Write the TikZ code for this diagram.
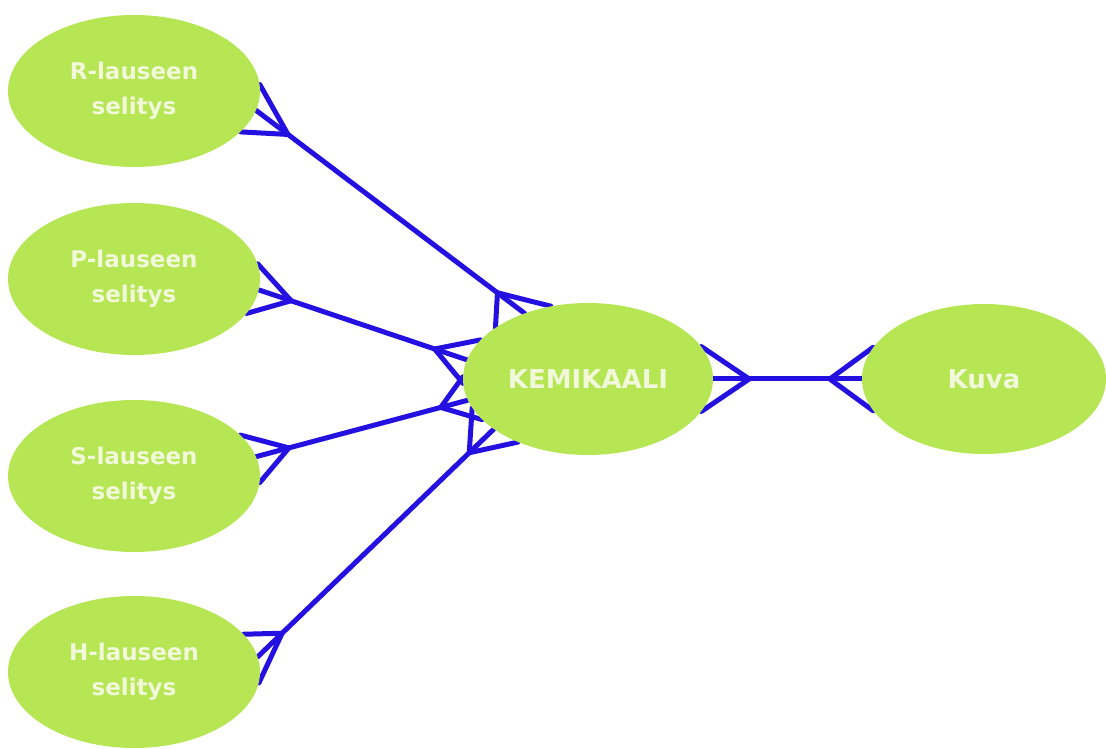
\documentclass[tikz,border=0pt]{standalone}
\usepackage{fontspec}
\setmainfont{DejaVu Sans}
\usetikzlibrary{shapes.geometric,calc,backgrounds}
\definecolor{ellgreen}{RGB}{182,230,84}
\definecolor{txtpale}{RGB}{242,248,218}
\definecolor{lnblue}{RGB}{36,16,224}
\tikzset{
  ell/.style={ellipse, fill=ellgreen, draw=none, inner sep=0pt,
    minimum width=252pt, minimum height=152pt, align=center, text=txtpale,
    font=\bfseries\fontsize{23}{35}\selectfont},
  bigtext/.style={font=\bfseries\fontsize{26}{35}\selectfont},
  link/.style={draw=lnblue, line width=5pt, line cap=round, line join=round},
}
\newcommand{\crowfoot}[5]{% node, angle, spread, target, distance
  \pgfmathsetmacro\crowA{#2+#3}
  \pgfmathsetmacro\crowB{#2-#3}
  \draw[link] (#1.\crowA) -- ($(#1.#2)!#5!(#4)$) -- (#1.\crowB);
}
\newcommand{\crowlink}[8]{% node1 angle1 spread1 dist1 node2 angle2 spread2 dist2
  \draw[link] (#1.#2) -- (#5.#6);
  \crowfoot{#1}{#2}{#3}{#5.#6}{#4}
  \crowfoot{#5}{#6}{#7}{#1.#2}{#8}
}
\begin{document}
\begin{tikzpicture}[x=1pt,y=1pt]
  \useasboundingbox (0,0) rectangle (1106,748);
  \node[ell] (R) at (134,657) {R-lauseen\\selitys};
  \node[ell] (P) at (134,469) {P-lauseen\\selitys};
  \node[ell] (S) at (134,272) {S-lauseen\\selitys};
  \node[ell] (H) at (134,76) {H-lauseen\\selitys};
  \node[ell, bigtext, minimum width=250pt] (K) at (588,369) {KEMIKAALI};
  \node[ell, bigtext, minimum width=244pt, minimum height=150pt] (V) at (984,369) {Kuva};
  \begin{pgfonlayer}{background}
    \crowlink{R}{-9}{12}{40pt}{K}{134}{17}{34pt}
    \crowlink{P}{-5}{12}{34pt}{K}{171}{11}{34pt}
    \crowlink{S}{9}{12}{34pt}{K}{190}{11}{28pt}
    \crowlink{H}{7}{12}{34pt}{K}{208}{14}{34pt}
    \crowlink{K}{0}{16}{36pt}{V}{180}{16}{32pt}
  \end{pgfonlayer}
\end{tikzpicture}
\end{document}
